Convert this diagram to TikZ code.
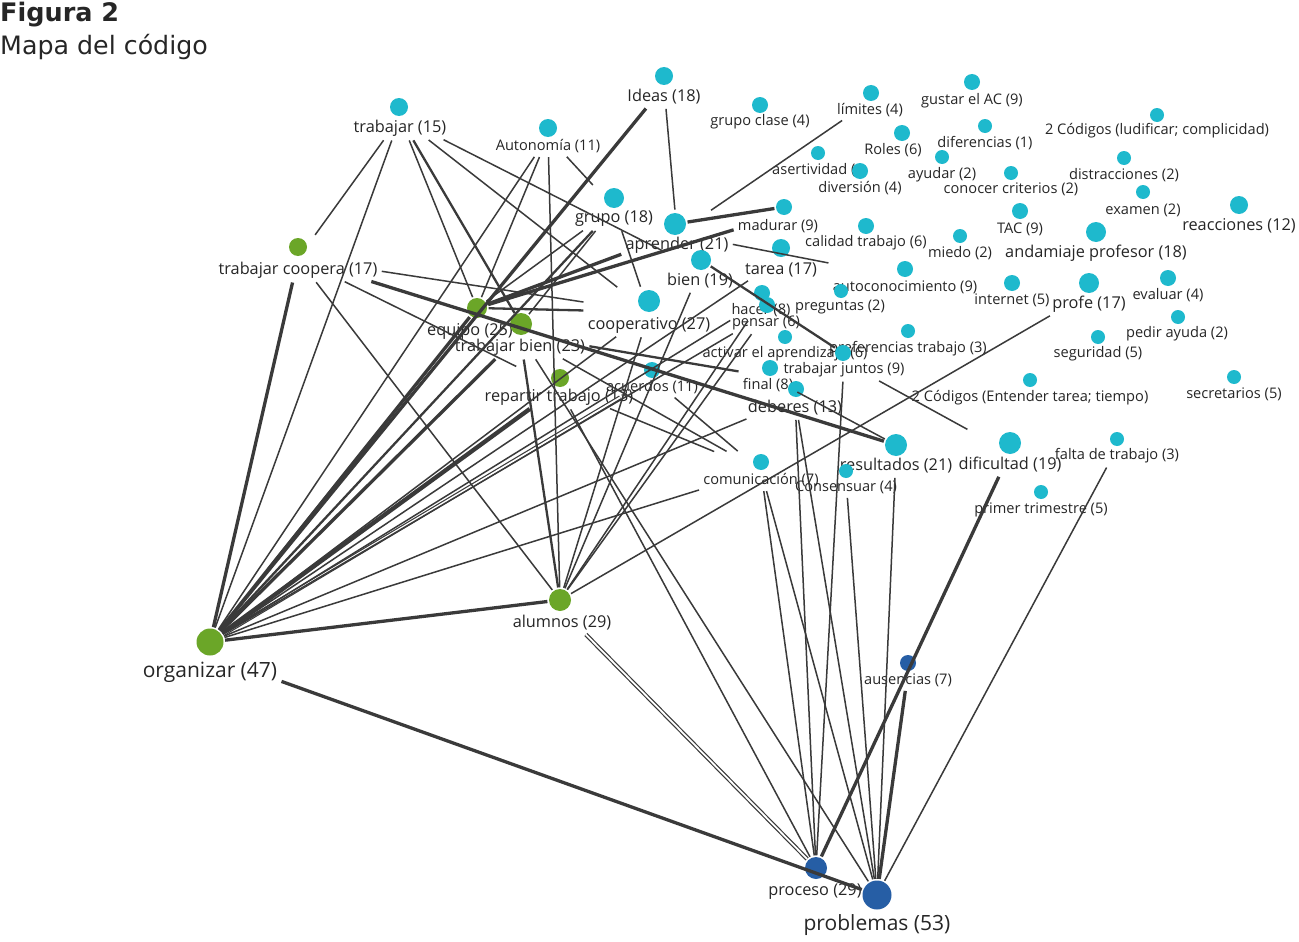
\documentclass[tikz,border=0pt]{standalone}
\usepackage{fontspec}
\setmainfont{Open Sans}
\newfontfamily\titlefont{DejaVu Sans}
\usetikzlibrary{fit}
\definecolor{cy}{RGB}{30,185,205}
\definecolor{gr}{RGB}{107,166,40}
\definecolor{bl}{RGB}{38,94,165}
\definecolor{ln}{RGB}{58,58,58}
\definecolor{tx}{RGB}{38,38,38}
\newcommand\codenode[7]{%
  \node[lab,#6] (#1-l) at (#5) {#7};
  \node[dotc,fill=#4,minimum size=#3] (#1) at (#2) {};
  \node[fitbox,fit=(#1)(#1-l)] (#1-f) {};
}
\begin{document}
\begin{tikzpicture}[x=1pt,y=-1pt,
  lab/.style={inner sep=1pt,text=tx,anchor=center},
  sm/.style={font=\fontsize{14.6}{16}\selectfont},
  md/.style={font=\fontsize{16.3}{18}\selectfont},
  xl/.style={font=\fontsize{21}{24}\selectfont},
  dotc/.style={circle,inner sep=0pt,draw=none},
  fitbox/.style={inner sep=1.5pt,draw=none},
  e/.style={draw=ln,line width=1.5pt,shorten <=1.5pt,shorten >=1.5pt},
  em/.style={e,line width=2.3pt},
  ek/.style={e,line width=3.3pt},
  ex/.style={e,line width=4.3pt},
  ed/.style={e,line width=1.2pt,double=white,double distance=1.8pt}]
\useasboundingbox[fill=white] (0,0) rectangle (1299,942);
\node[anchor=base west,inner sep=0pt,text=tx,font=\titlefont\bfseries\fontsize{25.5}{28}\selectfont] (t1) at (0,22) {Figura 2};
\node[anchor=base west,inner sep=0pt,text=tx,font=\titlefont\fontsize{25.3}{28}\selectfont] (t2) at (0,55) {Mapa del código};

\codenode{trab}{399,107}{18pt}{cy}{400,128}{md}{trabajar (15)}
\codenode{aut}{548,128}{18pt}{cy}{548,146}{sm}{Autonomía (11)}
\codenode{ideas}{664,76}{18pt}{cy}{664,97}{md}{Ideas (18)}
\codenode{grupo}{614,198}{20pt}{cy}{614,219}{md}{grupo (18)}
\codenode{gclase}{760,105}{16pt}{cy}{760,122}{sm}{grupo clase (4)}
\codenode{lim}{871,93}{16pt}{cy}{870,110}{sm}{límites (4)}
\codenode{gustar}{972,82}{16pt}{cy}{972,101}{sm}{gustar el AC (9)}
\codenode{roles}{902,133}{16pt}{cy}{893,150}{sm}{Roles (6)}
\codenode{dif}{985,126}{14pt}{cy}{985,143}{sm}{diferencias (1)}
\codenode{cod1}{1157,115}{14pt}{cy}{1157,131}{sm}{2 Códigos (ludificar; complicidad)}
\codenode{aser}{818,153}{14pt}{cy}{771,170}{sm,anchor=west}{asertividad (}
\codenode{div}{860,171}{16pt}{cy}{860,188}{sm}{diversión (4)}
\codenode{ayudar}{942,157}{14pt}{cy}{942,175}{sm}{ayudar (2)}
\codenode{conocer}{1011,173}{14pt}{cy}{1011,189}{sm}{conocer criterios (2)}
\codenode{distr}{1124,158}{14pt}{cy}{1124,175}{sm}{distracciones (2)}
\codenode{exam}{1143,192}{14pt}{cy}{1143,210}{sm}{examen (2)}
\codenode{reac}{1239,205}{18pt}{cy}{1239,226}{md}{reacciones (12)}
\codenode{apr}{675,224}{22pt}{cy}{677,245}{md}{aprender (21)}
\codenode{mad}{784,207}{16pt}{cy}{778,226}{sm}{madurar (9)}
\codenode{cal}{866,226}{16pt}{cy}{866,243}{sm}{calidad trabajo (6)}
\codenode{tac}{1020,211}{16pt}{cy}{1020,229}{sm}{TAC (9)}
\codenode{miedo}{960,236}{14pt}{cy}{960,253}{sm}{miedo (2)}
\codenode{anda}{1096,232}{20pt}{cy}{1096,253}{md}{andamiaje profesor (18)}
\codenode{tarea}{781,248}{18pt}{cy}{781,270}{md}{tarea (17)}
\codenode{bien}{701,260}{20pt}{cy}{700,281}{md}{bien (19)}
\codenode{auto}{905,269}{16pt}{cy}{905,287}{sm}{autoconocimiento (9)}
\codenode{internet}{1012,283}{16pt}{cy}{1012,300}{sm}{internet (5)}
\codenode{profe}{1089,283}{20pt}{cy}{1089,304}{md}{profe (17)}
\codenode{eval}{1168,278}{16pt}{cy}{1168,295}{sm}{evaluar (4)}
\codenode{hacer}{762,293}{16pt}{cy}{761,310}{sm}{hacer (8)}
\codenode{preg}{841,291}{14pt}{cy}{840,307}{sm}{preguntas (2)}
\codenode{pensar}{767,305}{16pt}{cy}{766,323}{sm}{pensar (6)}
\codenode{pedir}{1178,317}{14pt}{cy}{1177,334}{sm}{pedir ayuda (2)}
\codenode{coop}{649,301}{22pt}{cy}{649,325}{md}{cooperativo (27)}
\codenode{pref}{908,331}{14pt}{cy}{908,349}{sm}{preferencias trabajo (3)}
\codenode{activ}{785,337}{14pt}{cy}{785,354}{sm}{activar el aprendizaje (6)}
\codenode{seg}{1098,337}{14pt}{cy}{1098,354}{sm}{seguridad (5)}
\codenode{tj}{843,353}{16pt}{cy}{844,370}{sm}{trabajar juntos (9)}
\codenode{final}{770,368}{16pt}{cy}{768,385}{sm}{final (8)}
\codenode{deb}{796,389}{16pt}{cy}{795,408}{md}{deberes (13)}
\codenode{acu}{652,370}{16pt}{cy}{652,387}{sm}{acuerdos (11)}
\codenode{cod2}{1030,380}{14pt}{cy}{1030,398}{sm}{2 Códigos (Entender tarea; tiempo)}
\codenode{secr}{1234,377}{14pt}{cy}{1234,394}{sm}{secretarios (5)}
\codenode{res}{896,445}{22pt}{cy}{896,466}{md}{resultados (21)}
\codenode{cons}{846,471}{14pt}{cy}{846,487}{sm}{Consensuar (4)}
\codenode{difi}{1010,443}{22pt}{cy}{1010,465}{md}{dificultad (19)}
\codenode{falta}{1117,439}{14pt}{cy}{1117,456}{sm}{falta de trabajo (3)}
\codenode{com}{761,462}{16pt}{cy}{761,480}{sm}{comunicación (7)}
\codenode{prim}{1041,492}{14pt}{cy}{1041,510}{sm}{primer trimestre (5)}
\codenode{tc}{298,247}{18pt}{gr}{298,270}{md}{trabajar coopera (17)}
\codenode{eq}{477,308}{20pt}{gr}{470,331}{md}{equipo (25)}
\codenode{tb}{521,324}{22pt}{gr}{520,347}{md}{trabajar bien (23)}
\codenode{rt}{560,378}{18pt}{gr}{559,397}{md}{repartir trabajo (13)}
\codenode{al}{560,600}{22pt}{gr}{562,623}{md}{alumnos (29)}
\codenode{org}{210,642}{27pt}{gr}{210,672}{xl}{organizar (47)}
\codenode{aus}{908,663}{16pt}{bl}{908,680}{sm}{ausencias (7)}
\codenode{pro}{816,868}{22pt}{bl}{815,892}{md}{proceso (29)}
\codenode{prob}{877,895}{29pt}{bl}{877,925}{xl}{problemas (53)}

% organizar
\draw[ek] (org) -- (tc-f);
\draw[e] (org) -- (trab-f);
\draw[ek] (org) -- (ideas-f);
\draw[e] (org) -- (aut-f);
\draw[ek] (org) -- (eq);
\draw[em] (org) -- (grupo-f);
\draw[ek] (org) -- (tb-f);
\draw[ex] (org) -- (rt-f);
\draw[ed] (org) -- (acu-f);
\draw[e] (org) -- (tarea-f);
\draw[e] (org) -- (hacer-f);
\draw[e] (org) -- (pensar-f);
\draw[e] (org) -- (deb-f);
\draw[e] (org) -- (com-f);
\draw[e] (org) -- (coop-f);
\draw[ek] (org) -- (al);
\draw[ek] (org-f) -- (prob);
% trabajar
\draw[e] (trab-f) -- (tc-f);
\draw[e] (trab-f) -- (eq);
\draw[em] (trab-f) -- (tb);
\draw[e] (trab-f) -- (coop-f);
\draw[e] (trab-f) -- (bien-f);
% autonomia, ideas, grupo
\draw[e] (aut-f) -- (eq);
\draw[e] (aut-f) -- (al);
\draw[e] (aut-f) -- (grupo-f);
\draw[e] (ideas-f) -- (apr-f);
\draw[e] (grupo-f) -- (coop-f);
\draw[e] (grupo-f) -- (eq);
\draw[e] (grupo-f) -- (tb);
% aprender
\draw[e] (apr-f) -- (lim-f);
\draw[ek] (apr) -- (mad);
\draw[e] (apr-f) -- (auto-f);
\draw[em] (bien) -- (tj);
% equipo
\draw[ek] (eq) -- (apr-f);
\draw[ek] (eq) -- (mad-f);
\draw[em] (eq) -- (coop-f);
% trabajar coopera
\draw[e] (tc-f) -- (coop-f);
\draw[ek] (tc-f) -- (res);
\draw[e] (tc-f) -- (rt-f);
\draw[e] (tc-f) -- (al);
% trabajar bien, repartir
\draw[em] (tb-f) -- (al);
\draw[e] (tb-f) -- (com-f);
\draw[em] (tb-f) -- (final-f);
\draw[e] (tb-f) -- (prob);
\draw[e] (rt-f) -- (com-f);
\draw[e] (rt-f) -- (pro);
% alumnos
\draw[e] (coop-f) -- (al);
\draw[e] (bien-f) -- (al);
\draw[e] (al) -- (pensar-f);
\draw[e] (al) -- (hacer-f);
\draw[e] (al) -- (profe-f);
\draw[ed] (al-f) -- (pro);
% lower part
\draw[e] (acu-f) -- (com-f);
\draw[e] (deb-f) -- (pro);
\draw[e] (deb-f) -- (prob);
\draw[e] (tj-f) -- (pro);
\draw[e] (com-f) -- (pro);
\draw[e] (com-f) -- (prob);
\draw[e] (cons-f) -- (prob);
\draw[e] (res-f) -- (prob);
\draw[ek] (aus-f) -- (prob);
\draw[ek] (difi-f) -- (pro);
\draw[e] (falta-f) -- (prob);
\draw[e] (tj-f) -- (difi-f);
\draw[e] (final-f) -- (res);
\end{tikzpicture}
\end{document}
